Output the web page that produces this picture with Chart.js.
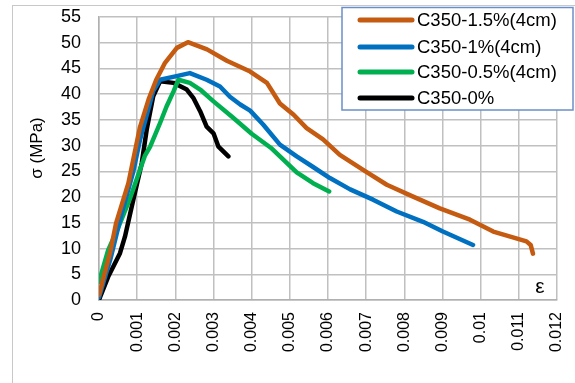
<!DOCTYPE html>
<html><head><meta charset="utf-8">
<script src="https://cdn.jsdelivr.net/npm/chart.js@4.4.0/dist/chart.umd.min.js"></script>
<style>html,body{margin:0;padding:0;background:#fff}canvas{display:block}</style>
</head><body>
<canvas id="c" width="575" height="383"></canvas>
<script>
const seriesNames = ['C350-1.5%(4cm)', 'C350-1%(4cm)', 'C350-0.5%(4cm)', 'C350-0%'];
const seriesColors = ['#c55a11', '#0070c0', '#00b050', '#000000'];
const xTickLabels = ['0','0.001','0.002','0.003','0.004','0.005','0.006','0.007','0.008','0.009','0.01','0.011','0.012'];
const yTickLabels = ['0','5','10','15','20','25','30','35','40','45','50','55'];
const xAxisLabel = 'ε';
const yAxisLabel = 'σ (MPa)';

const strain15 = [0,0.0003,0.00045,0.00077,0.00107,0.0013,0.0015,0.00173,0.00204,0.00233,0.00283,0.00335,0.00396,0.0044,0.00474,0.0051,0.00544,0.00587,0.00631,0.00692,0.00754,0.00823,0.00893,0.00972,0.01033,0.0112,0.01131,0.01137];
const stress15 = [1,9.5,15,22.7,33.5,39,42.8,46.1,49,50.1,48.7,46.5,44.4,42.2,38.2,36,33.4,31.2,28.2,25.3,22.4,20.1,17.8,15.6,13.3,11.4,10.7,9.0];

const strain10 = [0,0.0003,0.0006,0.0009,0.00107,0.00142,0.0016,0.00203,0.00238,0.00282,0.00317,0.00343,0.0037,0.00396,0.0043,0.00474,0.00518,0.0056,0.00605,0.00658,0.00718,0.0078,0.00849,0.00901,0.0098];
const stress10 = [0.5,8,17,25,31,40.6,42.8,43.5,44.1,42.8,41.5,39.5,38,36.8,34.1,30.2,27.9,25.9,23.7,21.5,19.5,17.2,15.2,13.3,10.7];

const strain05 = [0,0.00024,0.0005,0.0008,0.0012,0.00134,0.0016,0.00177,0.00195,0.00208,0.00238,0.00265,0.003,0.0035,0.004,0.0045,0.00483,0.00518,0.00561,0.00603];
const stress05 = [3.5,9.7,14,19.5,28,29.8,34.4,37.6,40.5,42.8,42.2,40.9,38.6,35.5,32.3,29.6,27.3,24.8,22.7,21.1];

const strain00 = [0,0.00003,0.00024,0.00055,0.00068,0.00086,0.00112,0.00125,0.00142,0.0016,0.00195,0.0023,0.00247,0.00265,0.00282,0.003,0.00313,0.00339];
const stress00 = [0,0.6,4.5,9.1,12.3,18.2,26.6,33.1,39.6,42.5,42.2,40.9,39.3,36.7,33.7,32.4,29.8,27.9];

const strains = [strain15, strain10, strain05, strain00];
const stresses = [stress15, stress10, stress05, stress00];

const FONT = "'Liberation Sans', Arial, sans-serif";

const datasets = seriesNames.map((name, i) => ({
  label: name,
  data: strains[i].map((x, j) => ({x: x, y: stresses[i][j]})),
  borderColor: seriesColors[i],
  backgroundColor: seriesColors[i],
  borderWidth: 4.5,
  pointRadius: 0,
  tension: 0,
  borderJoinStyle: 'round',
  borderCapStyle: 'round',
  fill: false,
  order: i + 1
}));

const decorPlugin = {
  id: 'decor',
  beforeDraw(chart) {
    const ctx = chart.ctx;
    ctx.save();
    ctx.fillStyle = '#fff';
    ctx.fillRect(0, 0, chart.width, chart.height);
    ctx.strokeStyle = '#c8c8c8';
    ctx.lineWidth = 1;
    ctx.strokeRect(12.5, 5.5, 700, 500);
    ctx.restore();
  },
  afterDraw(chart) {
    const ctx = chart.ctx;
    ctx.save();
    ctx.fillStyle = '#000';
    ctx.font = '17px ' + FONT;
    ctx.textAlign = 'center';
    ctx.textBaseline = 'middle';
    ctx.translate(37, 148);
    ctx.rotate(-Math.PI / 2);
    ctx.fillText(yAxisLabel, 0, 0);
    ctx.restore();
    ctx.save();
    ctx.fillStyle = '#000';
    ctx.font = '21px ' + FONT;
    ctx.textAlign = 'center';
    ctx.textBaseline = 'middle';
    ctx.fillText(xAxisLabel, 540, 287);
    ctx.restore();
    ctx.save();
    ctx.fillStyle = '#fff';
    ctx.fillRect(342, 7, 231, 103);
    ctx.strokeStyle = '#6a8fc8';
    ctx.lineWidth = 1.5;
    ctx.strokeRect(342, 7.5, 231, 102.5);
    ctx.font = '18.5px ' + FONT;
    ctx.textAlign = 'left';
    ctx.textBaseline = 'middle';
    const rows = [20, 47, 72, 98];
    seriesNames.forEach((name, i) => {
      ctx.strokeStyle = seriesColors[i];
      ctx.lineWidth = 5;
      ctx.lineCap = 'round';
      ctx.beginPath();
      ctx.moveTo(360, rows[i]);
      ctx.lineTo(412, rows[i]);
      ctx.stroke();
      ctx.fillStyle = '#000';
      ctx.fillText(name, 417, rows[i] + 1);
    });
    ctx.restore();
  }
};

new Chart(document.getElementById('c'), {
  type: 'line',
  data: { datasets: datasets },
  options: {
    responsive: false,
    animation: false,
    devicePixelRatio: 1,
    layout: { padding: { top: 17, right: 18, left: 0, bottom: 0 } },
    plugins: { legend: { display: false }, tooltip: { enabled: false }, title: { display: false } },
    scales: {
      x: {
        type: 'linear',
        min: 0, max: 0.012,
        afterFit(scale) { scale.height = 83; scale.paddingLeft = 0; scale.paddingRight = 0; },
        afterBuildTicks(scale) { scale.ticks = xTickLabels.map((t, i) => ({ value: i * 0.001 })); },
        ticks: {
          autoSkip: false,
          minRotation: 90, maxRotation: 90,
          padding: 12,
          color: '#000',
          font: { family: FONT, size: 16 },
          callback: (v, i) => xTickLabels[i]
        },
        grid: { color: '#c0c0c0', lineWidth: 1.5, drawTicks: false },
        border: { color: '#b0b0b0', width: 1.5 }
      },
      y: {
        type: 'linear',
        min: 0, max: 55,
        afterFit(scale) { scale.width = 99; scale.paddingTop = 0; scale.paddingBottom = 0; },
        afterBuildTicks(scale) { scale.ticks = yTickLabels.map((t, i) => ({ value: i * 5 })); },
        ticks: {
          padding: 18,
          color: '#000',
          font: { family: FONT, size: 18 },
          callback: (v, i) => yTickLabels[i]
        },
        grid: { color: '#c0c0c0', lineWidth: 1.5, drawTicks: false },
        border: { color: '#b0b0b0', width: 1.5 }
      }
    }
  },
  plugins: [decorPlugin]
});
</script>
</body></html>
